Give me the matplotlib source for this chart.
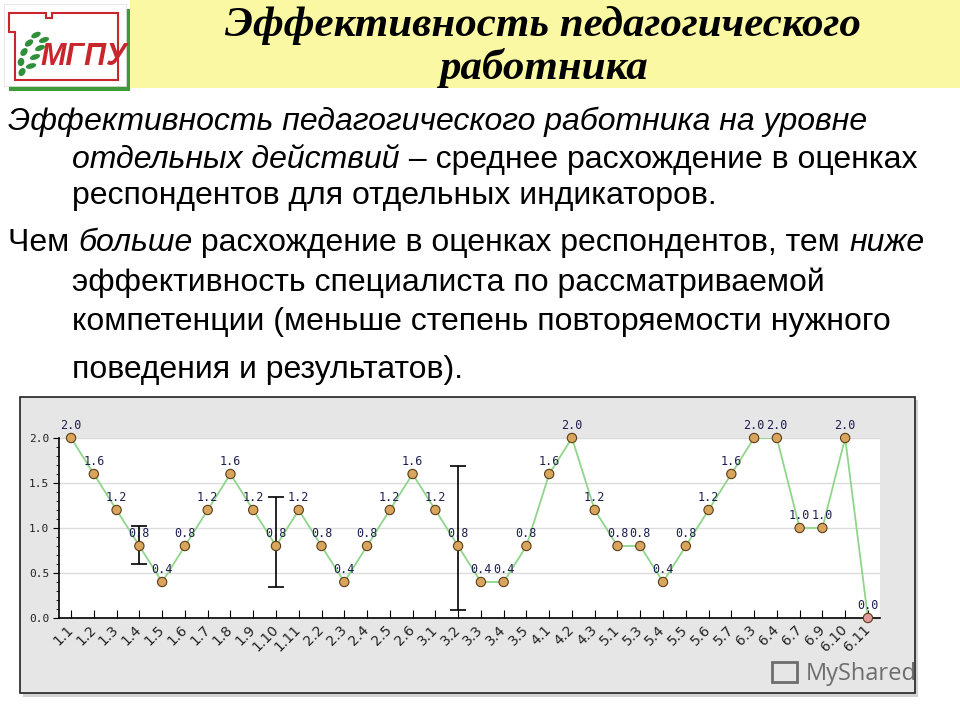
import numpy as np
import matplotlib
matplotlib.use('Agg')
import matplotlib.pyplot as plt
from matplotlib.patches import Rectangle, Polygon, Ellipse
from matplotlib.text import Annotation
from matplotlib.ticker import MultipleLocator

W, H = 960, 720

indicators = ['1.1', '1.2', '1.3', '1.4', '1.5', '1.6', '1.7', '1.8', '1.9', '1.10', '1.11',
              '2.2', '2.3', '2.4', '2.5', '2.6', '3.1', '3.2', '3.3', '3.4', '3.5',
              '4.1', '4.2', '4.3', '5.1', '5.3', '5.4', '5.5', '5.6', '5.7',
              '6.3', '6.4', '6.7', '6.9', '6.10', '6.11']
values = [2.0, 1.6, 1.2, 0.8, 0.4, 0.8, 1.2, 1.6, 1.2, 0.8, 1.2,
          0.8, 0.4, 0.8, 1.2, 1.6, 1.2, 0.8, 0.4, 0.4, 0.8,
          1.6, 2.0, 1.2, 0.8, 0.8, 0.4, 0.8, 1.2, 1.6,
          2.0, 2.0, 1.0, 1.0, 2.0, 0.0]

err_indicators = ['1.4', '1.10', '3.2']
err_low = [0.60, 0.34, 0.09]
err_high = [1.02, 1.35, 1.69]

yticks = [0.0, 0.5, 1.0, 1.5, 2.0]

title = 'Эффективность педагогического\nработника'
body = [
    (8, 130, [('Эффективность педагогического работника на уровне', True)]),
    (72, 168, [('отдельных действий', True), (' – среднее расхождение в оценках', False)]),
    (72, 204, [('респондентов для отдельных индикаторов.', False)]),
    (8, 251, [('Чем ', False), ('больше', True),
              (' расхождение в оценках респондентов, тем ', False), ('ниже', True)]),
    (72, 291, [('эффективность специалиста по рассматриваемой', False)]),
    (72, 330, [('компетенции (меньше степень повторяемости нужного', False)]),
    (72, 378, [('поведения и результатов).', False)]),
]


def box(x0, y0, x1, y1):
    # pixel rectangle (top-left origin) -> figure fraction
    return (x0 / W, 1 - y1 / H, (x1 - x0) / W, (y1 - y0) / H)


def fxy(x, y):
    return (x / W, 1 - y / H)


def add_rect(x0, y0, x1, y1, **kw):
    l, b, w, h = box(x0, y0, x1, y1)
    fig.patches.append(Rectangle((l, b), w, h, transform=fig.transFigure, **kw))


fig = plt.figure(figsize=(9.6, 7.2), dpi=100)
fig.patch.set_facecolor('white')

# header band
add_rect(130, 0, 960, 88, facecolor='#fbf8a3', edgecolor='none', zorder=0)
fig.text(*fxy(543, 47), title, ha='center', va='center', fontsize=31,
         family='Liberation Serif', weight='bold', style='italic',
         linespacing=1.1, color='black')

# logo
add_rect(9, 9, 130, 91, facecolor='#3f9a3a', edgecolor='none', zorder=1)
add_rect(4, 4, 126, 86, facecolor='white', edgecolor='#dddddd', lw=0.5, zorder=2)
outline = [fxy(9, 13), fxy(46, 13), fxy(46, 18), fxy(52, 18), fxy(52, 13),
           fxy(118, 13), fxy(118, 80), fxy(15, 80), fxy(15, 32), fxy(9, 32)]
fig.patches.append(Polygon(outline, closed=True, transform=fig.transFigure,
                           facecolor='none', edgecolor='#c8262c', lw=1.5, zorder=3))
for (lx, ly, ang) in [(22, 72, 75), (21, 62, 85), (24, 52, 70), (29, 43, 55),
                      (36, 35, 40), (31, 66, 25), (35, 57, 30), (40, 48, 35), (44, 40, 30)]:
    fig.patches.append(Ellipse(fxy(lx, ly), 11 / W, 5 / H, angle=ang,
                               transform=fig.transFigure, facecolor='#2f8f3a',
                               edgecolor='none', zorder=3))
fig.text(*fxy(84, 57), 'МГПУ', ha='center', va='center', fontsize=22,
         family='Liberation Sans', weight='bold', style='italic',
         color='#c8262c', zorder=4)

# body text, pieces chained so italics sit inline
for (px, py, pieces) in body:
    prev = None
    for s, ital in pieces:
        kw = dict(fontsize=23, family='Liberation Sans',
                  style='italic' if ital else 'normal', color='black')
        if prev is None:
            prev = fig.text(*fxy(px, py), s, ha='left', va='baseline', **kw)
        else:
            prev = fig.add_artist(Annotation(s, xy=(1, 0), xycoords=prev,
                                             ha='left', va='bottom', **kw))

# chart panel
add_rect(23, 400, 918, 697, facecolor='#d2d2d2', edgecolor='none', zorder=0)
add_rect(20, 397, 915, 693, facecolor='#e6e6e6', edgecolor='#222222', lw=1.2, zorder=0.5)

ax = fig.add_axes(box(59, 438, 880, 618))
ax.set_zorder(3)
ax.set_facecolor('white')
x = np.arange(len(values))
ax.plot(x, values, color='#8fd68a', lw=1.3, zorder=2)
mcolors = ['#e39a9a' if v == 0 else '#d9a45c' for v in values]
ax.scatter(x, values, s=45, c=mcolors, edgecolors='#5a3d18', linewidths=0.8,
           zorder=4, clip_on=False)
for xi, v in zip(x, values):
    ax.annotate(f'{v:.1f}', (xi, v), xytext=(0, 4.5), textcoords='offset points',
                ha='center', va='bottom', fontsize=8.5, family='DejaVu Sans Mono',
                color='#1c1c50', annotation_clip=False, zorder=5)

xe = [indicators.index(k) for k in err_indicators]
ye = np.array([values[i] for i in xe])
ax.errorbar(xe, ye, yerr=[ye - np.array(err_low), np.array(err_high) - ye],
            fmt='none', ecolor='black', elinewidth=1.2, capsize=6, capthick=1.2,
            zorder=3)

ax.set_xlim(-0.53, 35.53)
ax.set_ylim(0, 2.0)
ax.set_xticks(x)
ax.set_xticklabels(indicators, rotation=45, ha='right', va='center',
                   rotation_mode='anchor', fontsize=10, color='#222222')
ax.tick_params(axis='x', direction='in', length=6, width=0.8, pad=7)
ax.set_yticks(yticks)
ax.set_yticklabels([f'{t:.1f}' for t in yticks], family='DejaVu Sans Mono',
                   fontsize=8, color='#222222')
ax.yaxis.set_minor_locator(MultipleLocator(0.1))
ax.tick_params(axis='y', which='major', direction='out', length=4, width=0.8, pad=3)
ax.tick_params(axis='y', which='minor', direction='out', length=2, width=0.6)
ax.yaxis.grid(True, which='major', color='#dcdcdc', lw=1)
ax.set_axisbelow(True)
for side in ['top', 'right']:
    ax.spines[side].set_visible(False)
for side in ['left', 'bottom']:
    ax.spines[side].set_linewidth(1.2)
    ax.spines[side].set_color('black')

# watermark
fig.text(*fxy(806, 674), 'MyShared', ha='left', va='center', fontsize=17,
         family='Open Sans', color='#6d6d6d', zorder=6)
add_rect(772, 662, 797, 682, facecolor='none', edgecolor='#6d6d6d', lw=2, zorder=6)

fig.savefig('out.png', dpi=100)
